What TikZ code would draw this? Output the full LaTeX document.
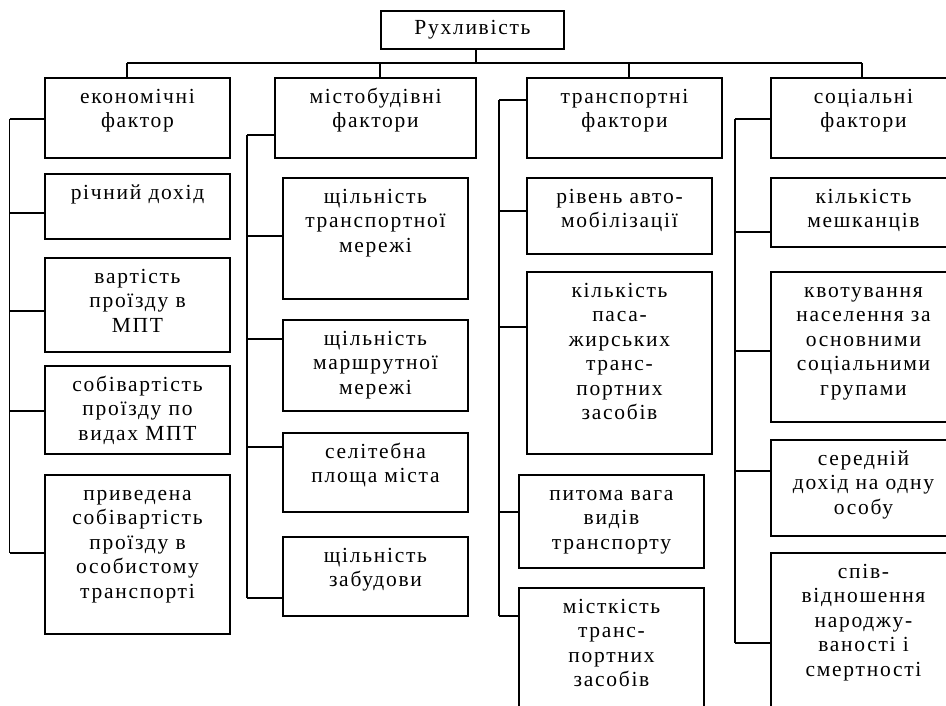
\documentclass[tikz,border=0pt]{standalone}
\usepackage{fontspec}
\setmainfont{Liberation Serif}[LetterSpace=8]
\tikzset{
  x=1pt, y=-1pt,
  boxst/.style={draw, line width=1.3pt, inner sep=0pt, outer sep=0pt, anchor=north west},
  txtst/.style={anchor=north, inner sep=0pt, align=center, font=\fontsize{21.5}{24.5}\selectfont},
  link/.style={line width=1.3pt}
}
\newcommand\bx[6]{%
  \node[boxst, minimum width={(#4-#2)*1pt}, minimum height={(#5-#3)*1pt}] (#1) at (#2,#3) {};
  \node[txtst] (#1t) at ([yshift=-8pt]#1.north) {\strut #6};
}
\begin{document}
\begin{tikzpicture}
\useasboundingbox (0,0) rectangle (946,706);
\clip (0,0) rectangle (946,706);
\fill[white] (0,0) rectangle (946,706);
% top
\node[boxst, minimum width=183pt, minimum height=38pt] (top) at (381,11) {};
\node[txtst, anchor=center] (topt) at (top.center) {Рухливість};
% column 1
\bx{h1}{45}{78}{230}{158}{економічні\\фактор}
\bx{e1}{45}{174}{230}{239}{річний дохід}
\bx{e2}{45}{258}{230}{352}{вартість\\проїзду в\\МПТ}
\bx{e3}{45}{366}{230}{454}{собівартість\\проїзду по\\видах МПТ}
\bx{e4}{45}{475}{230}{634}{приведена\\собівартість\\проїзду в\\особистому\\транспорті}
% column 2
\bx{h2}{275}{78}{476}{158}{містобудівні\\фактори}
\bx{m1}{283}{178}{468}{299}{щільність\\транспортної\\мережі}
\bx{m2}{283}{320}{468}{411}{щільність\\маршрутної\\мережі}
\bx{m3}{283}{433}{468}{512}{селітебна\\площа міста}
\bx{m4}{283}{537}{468}{616}{щільність\\забудови}
% column 3
\bx{h3}{527}{78}{722}{158}{транспортні\\фактори}
\bx{t1}{527}{178}{712}{254}{рівень авто-\\мобілізації}
\bx{t2}{527}{272}{712}{454}{кількість\\паса-\\жирських\\транс-\\портних\\засобів}
\bx{t3}{519}{475}{704}{568}{питома вага\\видів\\транспорту}
\bx{t4}{519}{588}{704}{720}{місткість\\транс-\\портних\\засобів}
% column 4
\bx{h4}{771}{78}{956}{158}{соціальні\\фактори}
\bx{s1}{771}{178}{956}{247}{кількість\\мешканців}
\bx{s2}{771}{272}{956}{422}{квотування\\населення за\\основними\\соціальними\\групами}
\bx{s3}{771}{440}{956}{536}{середній\\дохід на одну\\особу}
\bx{s4}{771}{553}{956}{720}{спів-\\відношення\\народжу-\\ваності і\\смертності}
% top tree
\coordinate (j0) at (476,63);
\coordinate (j1) at (127,63);
\coordinate (j2) at (380,63);
\coordinate (j3) at (629,63);
\coordinate (j4) at (862,63);
\draw[link] (top.south -| j0) -- (j0);
\draw[link] (j1) -- (j4);
\draw[link] (j1) -- (j1 |- h1.north);
\draw[link] (j2) -- (j2 |- h2.north);
\draw[link] (j3) -- (j3 |- h3.north);
\draw[link] (j4) -- (j4 |- h4.north);
% buses
\foreach \bus/\bx/\list in {1/9.5/{h1/119,e1/213,e2/311,e3/411,e4/553},
                            2/247/{h2/135,m1/236,m2/339,m3/447,m4/598},
                            3/499/{h3/100,t1/211,t2/327,t3/512,t4/616},
                            4/735/{h4/119,s1/232,s2/351,s3/471,s4/643}}{
  \foreach \n/\yy [count=\i] in \list {
    \coordinate (b\bus-\i) at (\bx,\yy);
    \draw[link] (b\bus-\i) -- (\n.west |- b\bus-\i);
  }
  \draw[link] (b\bus-1) -- (b\bus-5);
}
\end{tikzpicture}
\end{document}
